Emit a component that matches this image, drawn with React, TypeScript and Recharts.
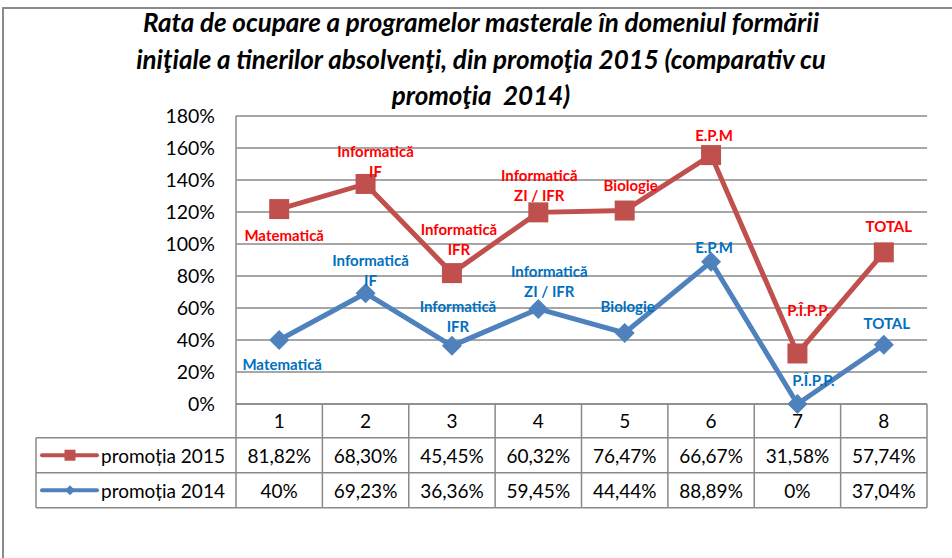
import React from 'react';
import { ComposedChart, Area, XAxis, YAxis, CartesianGrid, LabelList } from 'recharts';

// ---------- data ----------
const categories = ['1', '2', '3', '4', '5', '6', '7', '8'];
const promo2015 = [81.82, 68.3, 45.45, 60.32, 76.47, 66.67, 31.58, 57.74];
const promo2014 = [40, 69.23, 36.36, 59.45, 44.44, 88.89, 0, 37.04];
const labels2015 = ['Matematică', 'Informatică\nIF', 'Informatică\nIFR', 'Informatică\nZI / IFR', 'Biologie', 'E.P.M', 'P.Î.P.P.', 'TOTAL'];
const labels2014 = ['Matematică', 'Informatică\nIF', 'Informatică\nIFR', 'Informatică\nZI / IFR', 'Biologie', 'E.P.M', 'P.Î.P.P.', 'TOTAL'];
const yTicks = [0, 20, 40, 60, 80, 100, 120, 140, 160, 180];
const seriesNames = ['promoția 2015', 'promoția 2014'];
const titleLines = [
  'Rata de ocupare a programelor masterale în domeniul formării',
  'iniţiale a tinerilor absolvenţi, din promoţia 2015 (comparativ cu',
  'promoţia  2014)',
];

// ---------- layout / style ----------
const W = 952;
const H = 558;
const PLOT_L = 236;
const PLOT_R = 927;
const PLOT_T = 116;
const PLOT_B = 404;
const BW = (PLOT_R - PLOT_L) / categories.length;
const LEGEND_L = 36;
const ROW_Y = [0, 33.7, 68.7, 103.7];
const GRAY = '#8a8a8a';
const RED = '#C0504D';
const BLUE = '#4F81BD';
const RED_TXT = '#FF0000';
const BLUE_TXT = '#0070C0';
const FONT = 'Lato, "Open Sans", sans-serif';
const offs2015 = [[5, 26], [10, -33], [7, -44], [1, -37], [6, -26], [3, -20], [11, -43], [5, -26]];
const offs2014 = [[3, 24], [5, -33], [6, -40], [11, -38], [3, -27], [3, -15], [16, -24], [3, -22]];

const fmt = (v: number) => (Number.isInteger(v) ? `${v}%` : `${v.toFixed(2).replace('.', ',')}%`);

const data = categories.map((c, i) => ({
  cat: c,
  p2015: promo2015[i],
  p2014: promo2014[i],
  l2015: labels2015[i],
  l2014: labels2014[i],
}));

const SquareDot = (props: any) => {
  const { cx, cy } = props;
  if (cx == null || cy == null) return null;
  return <rect x={cx - 10} y={cy - 10} width={20} height={20} fill={RED} />;
};

const DiamondDot = (props: any) => {
  const { cx, cy } = props;
  if (cx == null || cy == null) return null;
  return <polygon points={`${cx},${cy - 10} ${cx + 10},${cy} ${cx},${cy + 10} ${cx - 10},${cy}`} fill={BLUE} />;
};

const makeLabel = (offs: number[][], color: string) => (props: any) => {
  const { x, y, value, index } = props;
  if (x == null || y == null) return null;
  const lines = String(value).split('\n');
  const [dx, dy] = offs[index] || [0, 0];
  return (
    <g>
      {lines.map((ln, k) => (
        <text
          key={k}
          x={x + dx}
          y={y + dy + k * 20}
          textAnchor="middle"
          dominantBaseline="central"
          fill={color}
          fontFamily={FONT}
          fontWeight={700}
          fontSize={15}
        >
          {ln}
        </text>
      ))}
    </g>
  );
};

const TableTick = (props: any) => {
  const { x, y, payload } = props;
  const i = payload.index;
  const left = x - BW / 2;
  const right = x + BW / 2;
  const txt = { fontFamily: FONT, fontSize: 19, fill: '#000', textAnchor: 'middle' as const, dominantBaseline: 'central' as const };
  const r1 = y + (ROW_Y[1] + ROW_Y[2]) / 2;
  const r2 = y + (ROW_Y[2] + ROW_Y[3]) / 2;
  return (
    <g>
      <text x={x} y={y + (ROW_Y[0] + ROW_Y[1]) / 2} {...txt}>{payload.value}</text>
      <text x={x} y={r1} {...txt}>{fmt(promo2015[i])}</text>
      <text x={x} y={r2} {...txt}>{fmt(promo2014[i])}</text>
      {[1, 2, 3].map((r) => (
        <line key={r} x1={left} x2={right} y1={y + ROW_Y[r]} y2={y + ROW_Y[r]} stroke={GRAY} strokeWidth={1.5} />
      ))}
      <line x1={right} x2={right} y1={y} y2={y + ROW_Y[3]} stroke={GRAY} strokeWidth={1.5} />
      {i === 0 && (
        <g>
          <line x1={left} x2={left} y1={y} y2={y + ROW_Y[3]} stroke={GRAY} strokeWidth={1.5} />
          <line x1={LEGEND_L} x2={LEGEND_L} y1={y + ROW_Y[1]} y2={y + ROW_Y[3]} stroke={GRAY} strokeWidth={1.5} />
          {[1, 2, 3].map((r) => (
            <line key={r} x1={LEGEND_L} x2={left} y1={y + ROW_Y[r]} y2={y + ROW_Y[r]} stroke={GRAY} strokeWidth={1.5} />
          ))}
          {/* legend 2015 */}
          <line x1={LEGEND_L + 6} x2={LEGEND_L + 61} y1={r1} y2={r1} stroke={RED} strokeWidth={4} strokeLinecap="round" />
          <rect x={LEGEND_L + 28.5} y={r1 - 5.5} width={11} height={11} fill={RED} />
          <text x={LEGEND_L + 65} y={r1} fontFamily={FONT} fontSize={19} fill="#000" dominantBaseline="central">{seriesNames[0]}</text>
          {/* legend 2014 */}
          <line x1={LEGEND_L + 6} x2={LEGEND_L + 61} y1={r2} y2={r2} stroke={BLUE} strokeWidth={4} strokeLinecap="round" />
          <polygon
            points={`${LEGEND_L + 34},${r2 - 5} ${LEGEND_L + 39},${r2} ${LEGEND_L + 34},${r2 + 5} ${LEGEND_L + 29},${r2}`}
            fill={BLUE}
          />
          <text x={LEGEND_L + 65} y={r2} fontFamily={FONT} fontSize={19} fill="#000" dominantBaseline="central">{seriesNames[1]}</text>
        </g>
      )}
    </g>
  );
};

export default function App() {
  return (
    <div style={{ position: 'fixed', left: 0, top: 0, width: W, height: H, background: '#fff', overflow: 'hidden' }}>
      {/* outer frame */}
      <div style={{ position: 'absolute', left: 2, top: 7, width: W, height: 1.5, background: GRAY }} />
      <div style={{ position: 'absolute', left: 2, top: 7, width: 1.5, height: H, background: GRAY }} />
      {titleLines.map((t, k) => (
        <div
          key={k}
          style={{
            position: 'absolute',
            left: 0,
            width: 962,
            top: 22 + k * 36.5 - 18,
            height: 36,
            lineHeight: '36px',
            textAlign: 'center',
            fontFamily: FONT,
            fontWeight: 700,
            fontStyle: 'italic',
            fontSize: 26,
            color: '#000',
            whiteSpace: 'pre',
          }}
        >
          {t}
        </div>
      ))}
      <div style={{ position: 'absolute', left: 0, top: 0 }}>
        <ComposedChart
          width={W}
          height={H}
          data={data}
          margin={{ top: PLOT_T, right: W - PLOT_R, left: 0, bottom: H - PLOT_B - 104 }}
        >
          <CartesianGrid horizontal vertical={false} stroke={GRAY} strokeWidth={1.5} />
          <XAxis
            dataKey="cat"
            interval={0}
            height={104}
            tickSize={0}
            tickMargin={0}
            tickLine={false}
            axisLine={{ stroke: GRAY, strokeWidth: 1.5 }}
            padding={{ left: BW / 2, right: BW / 2 }}
            tick={<TableTick />}
          />
          <YAxis
            width={PLOT_L}
            domain={[0, 180]}
            ticks={yTicks}
            interval={0}
            tickLine={false}
            tickSize={6}
            tickMargin={15}
            axisLine={{ stroke: GRAY, strokeWidth: 1.5 }}
            tickFormatter={(v: number) => `${v}%`}
            tick={{ fill: '#000', fontSize: 19.5, fontFamily: FONT }}
          />
          <Area
            type="linear"
            dataKey="p2014"
            stackId="s"
            stroke={BLUE}
            strokeWidth={5}
            fill="none"
            fillOpacity={0}
            dot={<DiamondDot />}
            activeDot={false}
            isAnimationActive={false}
          >
            <LabelList dataKey="l2014" content={makeLabel(offs2014, BLUE_TXT)} />
          </Area>
          <Area
            type="linear"
            dataKey="p2015"
            stackId="s"
            stroke={RED}
            strokeWidth={5}
            fill="none"
            fillOpacity={0}
            dot={<SquareDot />}
            activeDot={false}
            isAnimationActive={false}
          >
            <LabelList dataKey="l2015" content={makeLabel(offs2015, RED_TXT)} />
          </Area>
        </ComposedChart>
      </div>
    </div>
  );
}
